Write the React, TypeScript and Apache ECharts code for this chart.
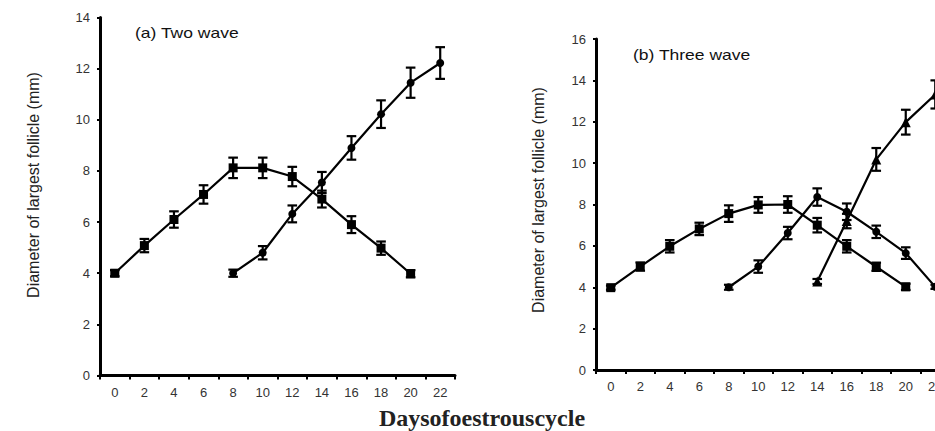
import React, { useEffect, useRef } from "react";
import * as echarts from "echarts";

// Day labels (category ticks)
const days = ["0", "2", "4", "6", "8", "10", "12", "14", "16", "18", "20", "22"];

// (a) Two wave
const aWave1 = [4.0, 5.08, 6.1, 7.08, 8.12, 8.12, 7.78, 6.9, 5.9, 4.98, 3.98, null];
const aWave1Err = [0.12, 0.26, 0.32, 0.36, 0.4, 0.4, 0.38, 0.33, 0.33, 0.26, 0.14, null];
const aWave2 = [null, null, null, null, 4.0, 4.8, 6.32, 7.55, 8.9, 10.22, 11.45, 12.22];
const aWave2Err = [null, null, null, null, 0.14, 0.26, 0.33, 0.41, 0.46, 0.54, 0.59, 0.62];

// (b) Three wave
const bWave1 = [3.98, 5.0, 5.98, 6.82, 7.56, 7.98, 8.0, 7.0, 5.98, 4.99, 4.02, null];
const bWave1Err = [0.1, 0.2, 0.3, 0.3, 0.4, 0.38, 0.4, 0.35, 0.3, 0.2, 0.15, null];
const bWave2 = [null, null, null, null, 4.0, 5.0, 6.62, 8.36, 7.65, 6.68, 5.65, 4.02];
const bWave2Err = [null, null, null, null, 0.12, 0.3, 0.3, 0.42, 0.4, 0.3, 0.28, 0.1];
const bWave3 = [null, null, null, null, null, null, null, 4.28, 7.2, 10.18, 11.98, 13.32];
const bWave3Err = [null, null, null, null, null, null, null, 0.12, 0.35, 0.55, 0.6, 0.68];

const FONT = "'Liberation Sans', Arial, sans-serif";

function errData(vals: (number | null)[], errs: (number | null)[]) {
  const out: any[] = [];
  vals.forEach((v, i) => {
    if (v != null && errs[i] != null) {
      out.push([days[i], v - (errs[i] as number), v + (errs[i] as number)]);
    }
  });
  return out;
}

function renderErr(params: any, api: any) {
  const x = api.value(0);
  const lo = api.coord([x, api.value(1)]);
  const hi = api.coord([x, api.value(2)]);
  const w = 4.8;
  const st = { stroke: "#000", lineWidth: 2.2 };
  return {
    type: "group",
    children: [
      { type: "line", shape: { x1: lo[0], y1: lo[1], x2: hi[0], y2: hi[1] }, style: st },
      { type: "line", shape: { x1: lo[0] - w, y1: lo[1], x2: lo[0] + w, y2: lo[1] }, style: st },
      { type: "line", shape: { x1: hi[0] - w, y1: hi[1], x2: hi[0] + w, y2: hi[1] }, style: st },
    ],
  };
}

function lineSeries(data: (number | null)[], idx: number, symbol: string, size: number) {
  return {
    type: "line",
    xAxisIndex: idx,
    yAxisIndex: idx,
    data,
    symbol,
    symbolSize: size,
    showSymbol: true,
    connectNulls: false,
    clip: false,
    lineStyle: { color: "#000", width: 2.2 },
    itemStyle: { color: "#000" },
    z: 3,
  };
}

function errSeries(vals: (number | null)[], errs: (number | null)[], idx: number) {
  return {
    type: "custom",
    xAxisIndex: idx,
    yAxisIndex: idx,
    data: errData(vals, errs),
    encode: { x: 0, y: [1, 2] },
    renderItem: renderErr,
    clip: false,
    z: 4,
  };
}

function xAxis(grid: number) {
  return {
    type: "category",
    gridIndex: grid,
    data: days,
    boundaryGap: true,
    axisLine: { show: true, lineStyle: { color: "#000", width: 3 } },
    axisTick: { show: true, alignWithLabel: false, length: 4, lineStyle: { color: "#000", width: 2 } },
    axisLabel: { color: "#333", fontSize: 13, fontFamily: FONT, margin: 10, interval: 0 },
    splitLine: { show: false },
  };
}

function yAxis(grid: number, max: number) {
  return {
    type: "value",
    gridIndex: grid,
    min: 0,
    max,
    interval: 2,
    axisLine: { show: true, lineStyle: { color: "#000", width: 3 } },
    axisTick: { show: true, length: 3, lineStyle: { color: "#000", width: 2 } },
    axisLabel: { color: "#333", fontSize: 13, fontFamily: FONT, margin: 10 },
    splitLine: { show: false },
  };
}

export default function App() {
  const ref = useRef<HTMLDivElement>(null);
  useEffect(() => {
    if (!ref.current) return;
    const chart = echarts.init(ref.current, null, { renderer: "svg" });
    chart.setOption({
      animation: false,
      backgroundColor: "#fff",
      grid: [
        { left: 100, top: 17.5, width: 355, height: 358, outerBoundsMode: "none", containLabel: false },
        { left: 596, top: 39, right: -15, height: 331, outerBoundsMode: "none", containLabel: false },
      ],
      xAxis: [xAxis(0), xAxis(1)],
      yAxis: [yAxis(0, 14), yAxis(1, 16)],
      series: [
        lineSeries(aWave1, 0, "rect", 9),
        lineSeries(aWave2, 0, "circle", 8),
        errSeries(aWave1, aWave1Err, 0),
        errSeries(aWave2, aWave2Err, 0),
        lineSeries(bWave1, 1, "rect", 9),
        lineSeries(bWave2, 1, "circle", 8),
        lineSeries(bWave3, 1, "triangle", 10),
        errSeries(bWave1, bWave1Err, 1),
        errSeries(bWave2, bWave2Err, 1),
        errSeries(bWave3, bWave3Err, 1),
      ],
      graphic: [
        {
          type: "text",
          x: 135,
          y: 33,
          scaleX: 1.25,
          style: { text: "(a) Two wave", fontSize: 14, fontFamily: FONT, fill: "#111", verticalAlign: "middle", align: "left" },
        },
        {
          type: "text",
          x: 633,
          y: 55,
          scaleX: 1.25,
          style: { text: "(b) Three wave", fontSize: 14, fontFamily: FONT, fill: "#111", verticalAlign: "middle", align: "left" },
        },
        {
          type: "text",
          x: 33,
          y: 185,
          rotation: Math.PI / 2,
          style: { text: "Diameter of largest follicle (mm)", fontSize: 16, fontFamily: FONT, fill: "#222", align: "center", verticalAlign: "middle" },
        },
        {
          type: "text",
          x: 538,
          y: 200,
          rotation: Math.PI / 2,
          style: { text: "Diameter of largest follicle (mm)", fontSize: 16, fontFamily: FONT, fill: "#222", align: "center", verticalAlign: "middle" },
        },
        {
          type: "text",
          x: 482,
          y: 418,
          style: { text: "Daysofoestrouscycle", fontSize: 24, fontWeight: "bold", fontFamily: "'Liberation Serif', 'Times New Roman', serif", fill: "#222", align: "center", verticalAlign: "middle" },
        },
      ],
    });
    return () => chart.dispose();
  }, []);
  return <div ref={ref} style={{ position: "fixed", left: 0, top: 0, width: 935, height: 431 }} />;
}
